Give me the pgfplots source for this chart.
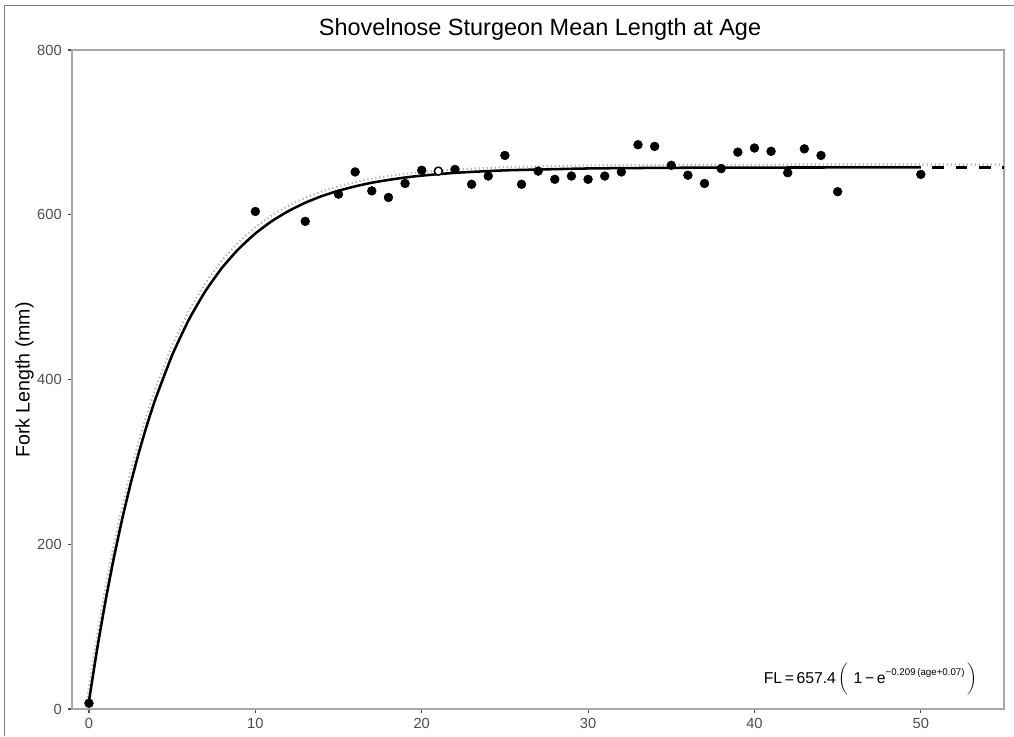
\documentclass[border=0pt]{standalone}
\usepackage{pgfplots}
\pgfplotsset{compat=1.18}
\usepackage{fontspec}
\setmainfont{Liberation Sans}
\definecolor{labgrey}{HTML}{4D4D4D}
\definecolor{framegrey}{HTML}{7F7F7F}
\definecolor{panelgrey}{HTML}{A8A8A8}
\definecolor{fitgrey}{HTML}{B5B5B5}
\begin{document}
\begin{tikzpicture}
\useasboundingbox (0,0) rectangle (760.5pt,552pt);
% figure frame (top and left edges)
\draw[framegrey, line width=0.9pt] (3.5pt,0) -- (3.5pt,548pt) -- (760.5pt,548pt);
% title
\node[anchor=base, font=\fontsize{17.6}{20}\selectfont] at (405pt,525.5pt) {Shovelnose Sturgeon Mean Length at Age};
% y axis title
\node[rotate=90, anchor=center, font=\fontsize{14.7}{16}\selectfont] at (18.5pt,267pt) {Fork Length (mm)};
\begin{axis}[
  at={(54pt,20.25pt)}, anchor=south west,
  scale only axis, width=699pt, height=494.25pt,
  xmin=-1.02, xmax=55, ymin=0, ymax=800,
  xtick={0,10,20,30,40,50}, ytick={0,200,400,600,800},
  axis line style={panelgrey, line width=0.8pt},
  tick style={labgrey, line width=0.8pt},
  tick align=outside, major tick length=3.2pt,
  xtick pos=bottom, ytick pos=left,
  tick label style={color=labgrey, font=\fontsize{11}{12}\selectfont},
  /pgf/number format/assume math mode=true,
  xticklabel style={yshift=-0.5pt},
  yticklabel style={xshift=-1pt},
  clip=true,
]
% alternative fit, grey dotted
\addplot[fitgrey, line width=1.6pt, dash pattern=on 1pt off 2pt] coordinates {
 (-0.1,13.9) (0,27.4) (0.5,91.2) (1,148.5) (1.5,200.0) (2,246.4) (2.5,288.1)
 (3,325.6) (3.5,359.3) (4,389.7) (5,441.5) (6,483.4) (7,517.3) (8,544.8)
 (9,567.0) (10,585.0) (11,599.5) (12,611.2) (13,620.7) (14,628.4) (15,634.7)
 (16,639.7) (17,643.8) (18,647.1) (19,649.7) (20,651.9) (22,655.0) (25,657.8)
 (30,659.9) (35,660.6) (40,660.9) (45,661.0) (50,661.0) (55,661.0)
};
% von Bertalanffy fit FL = 657.4(1 - exp(-0.209(age+0.07)))
\addplot[black, line width=1.9pt, smooth, tension=0.3] coordinates {
 (0,9.5) (0.5,73.8) (1,131.7) (1.5,183.9) (2,230.9) (2.5,273.2) (3,311.3)
 (3.5,345.7) (4,376.6) (5,429.6) (6,472.5) (7,507.4) (8,535.7) (9,558.6)
 (10,577.3) (11,592.4) (12,604.6) (13,614.6) (14,622.7) (15,629.2) (16,634.5)
 (17,638.9) (18,642.3) (19,645.2) (20,647.5) (22,650.9) (25,653.9) (30,656.2)
 (35,657.0) (40,657.3) (45,657.4) (50,657.4)
};
% extrapolation beyond the oldest age
\addplot[black, line width=1.9pt, dash pattern=on 8.75pt off 8.75pt, dash phase=8.75pt] coordinates {
 (50,657.4) (55,657.4)
};
% mean length at age
\addplot[only marks, mark=*, mark size=3.3pt, black] coordinates {
 (0,7) (10,604) (13,592) (15,625) (16,652) (17,629) (18,621) (19,638)
 (20,654) (22,655) (23,637) (24,647) (25,672) (26,637) (27,653) (28,643)
 (29,647) (30,643) (31,647) (32,652) (33,685) (34,683) (35,660) (36,648)
 (37,638) (38,656) (39,676) (40,681) (41,677) (42,651) (43,680) (44,672)
 (45,628) (50,649)
};
\addplot[only marks, mark=*, mark size=3pt, black, line width=1.1pt, fill=white] coordinates {
 (21,653)
};
\node[anchor=east, font=\fontsize{11.8}{13}\selectfont, inner sep=0pt] at (axis cs:53.4,36)
 {FL\,=\,657.4\,$\biggl(\,$\,1\,−\,e\raisebox{6pt}{\fontsize{7.3}{8}\selectfont −0.209\,(age+0.07)}$\,\biggr)$};
\end{axis}
\end{tikzpicture}
\end{document}
